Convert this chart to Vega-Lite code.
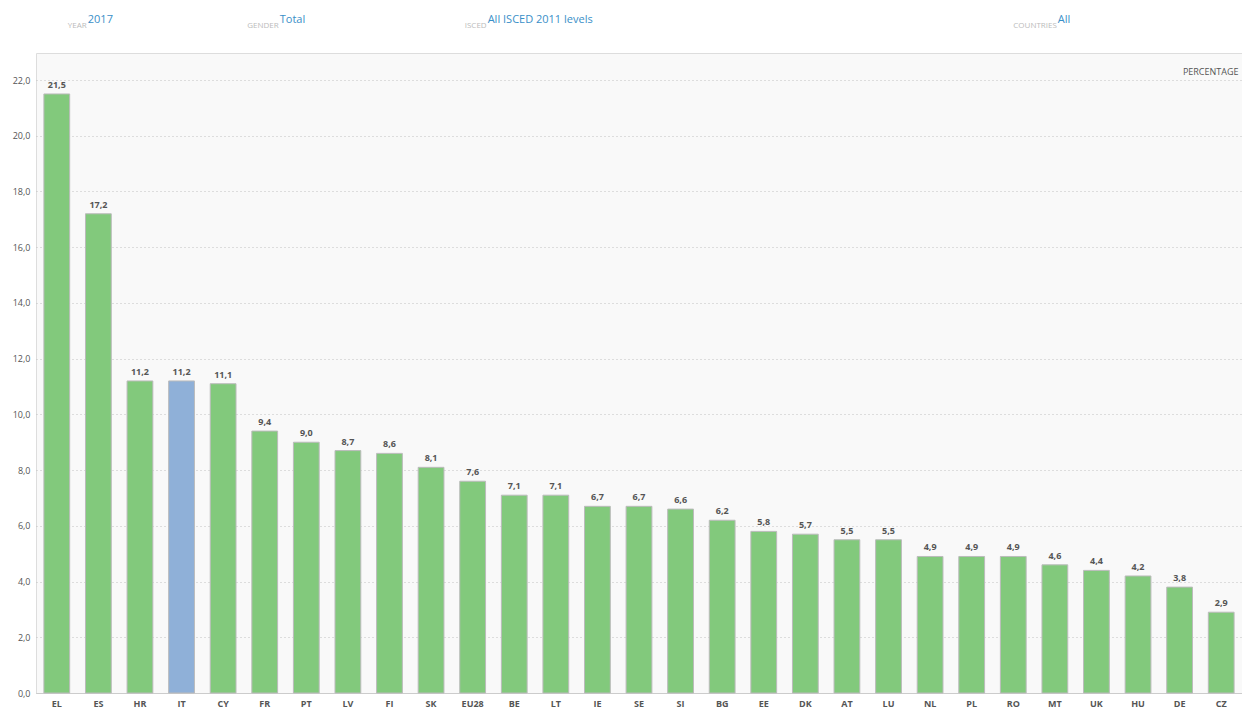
{
  "$schema": "https://vega.github.io/schema/vega-lite/v6.json",
  "width": 1206,
  "height": 640,
  "autosize": {"type": "none"},
  "padding": {"left": 36, "top": 53, "right": 0, "bottom": 16},
  "background": "white",
  "config": {
    "locale": {"number": {"decimal": ",", "thousands": ".", "grouping": [3], "currency": ["", " €"]}},
    "view": {"fill": "#f9f9f9", "stroke": "#dddddd", "strokeWidth": 1},
    "font": "Open Sans"
  },
  "data": {"values": [
    {"country": "EL", "value": 21.5, "hl": "no"},
    {"country": "ES", "value": 17.2, "hl": "no"},
    {"country": "HR", "value": 11.2, "hl": "no"},
    {"country": "IT", "value": 11.2, "hl": "yes"},
    {"country": "CY", "value": 11.1, "hl": "no"},
    {"country": "FR", "value": 9.4, "hl": "no"},
    {"country": "PT", "value": 9.0, "hl": "no"},
    {"country": "LV", "value": 8.7, "hl": "no"},
    {"country": "FI", "value": 8.6, "hl": "no"},
    {"country": "SK", "value": 8.1, "hl": "no"},
    {"country": "EU28", "value": 7.6, "hl": "no"},
    {"country": "BE", "value": 7.1, "hl": "no"},
    {"country": "LT", "value": 7.1, "hl": "no"},
    {"country": "IE", "value": 6.7, "hl": "no"},
    {"country": "SE", "value": 6.7, "hl": "no"},
    {"country": "SI", "value": 6.6, "hl": "no"},
    {"country": "BG", "value": 6.2, "hl": "no"},
    {"country": "EE", "value": 5.8, "hl": "no"},
    {"country": "DK", "value": 5.7, "hl": "no"},
    {"country": "AT", "value": 5.5, "hl": "no"},
    {"country": "LU", "value": 5.5, "hl": "no"},
    {"country": "NL", "value": 4.9, "hl": "no"},
    {"country": "PL", "value": 4.9, "hl": "no"},
    {"country": "RO", "value": 4.9, "hl": "no"},
    {"country": "MT", "value": 4.6, "hl": "no"},
    {"country": "UK", "value": 4.4, "hl": "no"},
    {"country": "HU", "value": 4.2, "hl": "no"},
    {"country": "DE", "value": 3.8, "hl": "no"},
    {"country": "CZ", "value": 2.9, "hl": "no"}
  ]},
  "layer": [
    {
      "mark": {"type": "bar", "stroke": "#bbbbbb", "strokeWidth": 1},
      "encoding": {
        "x": {
          "field": "country", "type": "nominal", "sort": null,
          "scale": {"domain": ["EL","ES","HR","IT","CY","FR","PT","LV","FI","SK","EU28","BE","LT","IE","SE","SI","BG","EE","DK","AT","LU","NL","PL","RO","MT","UK","HU","DE","CZ"], "paddingInner": 0.38, "paddingOuter": 0.19},
          "axis": {"title": null, "labelAngle": 0, "labelFontSize": 9, "labelColor": "#555555", "labelFontWeight": "bold", "labelPadding": 6, "ticks": false, "domainColor": "#cccccc", "domainWidth": 1}
        },
        "y": {
          "field": "value", "type": "quantitative",
          "scale": {"domain": [0, 22.97], "nice": false, "zero": true},
          "axis": {
            "values": [0, 2, 4, 6, 8, 10, 12, 14, 16, 18, 20, 22],
            "format": ".1f",
            "title": "PERCENTAGE", "titleAngle": 0, "titleAlign": "right", "titleX": 1202, "titleY": 18, "titleBaseline": "middle",
            "titleFontSize": 9, "titleColor": "#555555", "titleFontWeight": "normal",
            "labelFontSize": 9, "labelColor": "#555555", "labelPadding": 6,
            "ticks": false, "domain": false,
            "gridColor": "#c0c0c0", "gridDash": [1, 3], "gridWidth": 1
          }
        },
        "color": {"field": "hl", "type": "nominal", "scale": {"domain": ["no", "yes"], "range": ["#82c97c", "#8fb0d8"]}, "legend": null}
      }
    },
    {
      "mark": {"type": "text", "dy": -4, "fontSize": 9, "fontWeight": "bold", "color": "#555555", "baseline": "bottom"},
      "encoding": {
        "x": {"field": "country", "type": "nominal", "sort": null},
        "y": {"field": "value", "type": "quantitative"},
        "text": {"field": "value", "type": "quantitative", "format": ".1f"}
      }
    },
    {
      "data": {"values": [{"k": "YEAR", "v": "2017", "at": "EL"}]},
      "layer": [
        {"mark": {"type": "text", "align": "right", "dx": 30, "fontSize": 8, "color": "#bbbbbb", "baseline": "middle", "clip": false},
         "encoding": {"x": {"field": "at", "type": "nominal"}, "y": {"datum": 23.94, "type": "quantitative"}, "text": {"field": "k"}}},
        {"mark": {"type": "text", "align": "left", "dx": 31, "fontSize": 11, "color": "#3a8fc8", "baseline": "middle", "clip": false},
         "encoding": {"x": {"field": "at", "type": "nominal"}, "y": {"datum": 24.15, "type": "quantitative"}, "text": {"field": "v"}}}
      ]
    },
    {
      "data": {"values": [{"k": "GENDER", "v": "Total", "at": "FR"}]},
      "layer": [
        {"mark": {"type": "text", "align": "right", "dx": 14, "fontSize": 8, "color": "#bbbbbb", "baseline": "middle", "clip": false},
         "encoding": {"x": {"field": "at", "type": "nominal"}, "y": {"datum": 23.94, "type": "quantitative"}, "text": {"field": "k"}}},
        {"mark": {"type": "text", "align": "left", "dx": 15, "fontSize": 11, "color": "#3a8fc8", "baseline": "middle", "clip": false},
         "encoding": {"x": {"field": "at", "type": "nominal"}, "y": {"datum": 24.15, "type": "quantitative"}, "text": {"field": "v"}}}
      ]
    },
    {
      "data": {"values": [{"k": "ISCED", "v": "All ISCED 2011 levels", "at": "EU28"}]},
      "layer": [
        {"mark": {"type": "text", "align": "right", "dx": 14, "fontSize": 8, "color": "#bbbbbb", "baseline": "middle", "clip": false},
         "encoding": {"x": {"field": "at", "type": "nominal"}, "y": {"datum": 23.94, "type": "quantitative"}, "text": {"field": "k"}}},
        {"mark": {"type": "text", "align": "left", "dx": 15, "fontSize": 11, "color": "#3a8fc8", "baseline": "middle", "clip": false},
         "encoding": {"x": {"field": "at", "type": "nominal"}, "y": {"datum": 24.15, "type": "quantitative"}, "text": {"field": "v"}}}
      ]
    },
    {
      "data": {"values": [{"k": "COUNTRIES", "v": "All", "at": "MT"}]},
      "layer": [
        {"mark": {"type": "text", "align": "right", "dx": 2, "fontSize": 8, "color": "#bbbbbb", "baseline": "middle", "clip": false},
         "encoding": {"x": {"field": "at", "type": "nominal"}, "y": {"datum": 23.94, "type": "quantitative"}, "text": {"field": "k"}}},
        {"mark": {"type": "text", "align": "left", "dx": 3, "fontSize": 11, "color": "#3a8fc8", "baseline": "middle", "clip": false},
         "encoding": {"x": {"field": "at", "type": "nominal"}, "y": {"datum": 24.15, "type": "quantitative"}, "text": {"field": "v"}}}
      ]
    }
  ]
}
